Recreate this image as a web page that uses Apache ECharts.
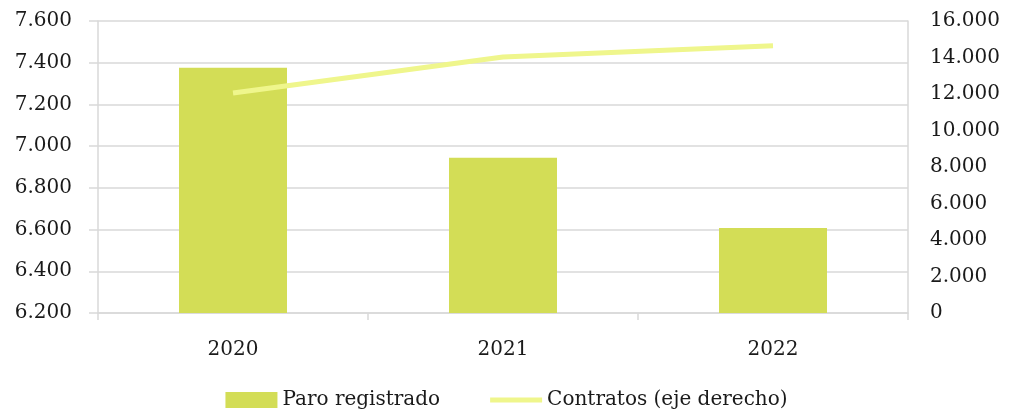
<!DOCTYPE html>
<html>
<head>
<meta charset="utf-8">
<script src="https://cdn.jsdelivr.net/npm/echarts@6/dist/echarts.min.js"></script>
<style>
  html, body { margin: 0; padding: 0; background: #fff; }
  #chart { width: 1013px; height: 414px; }
</style>
</head>
<body>
<div id="chart"></div>
<script>
const years = ['2020', '2021', '2022']
const paroRegistrado = [7376, 6944, 6607]
const contratos = [12060, 14030, 14640]

const font = 'DejaVu Serif'
const fmt = v => String(v).replace(/\B(?=(\d{3})+(?!\d))/g, '.')

const chart = echarts.init(document.getElementById('chart'))
chart.setOption({
  animation: false,
  textStyle: { fontFamily: font },
  grid: { left: 98, right: 105, top: 21, bottom: 101 },
  legend: {
    top: 385,
    left: 'center',
    itemWidth: 52,
    itemHeight: 16,
    itemGap: 50,
    textStyle: { fontFamily: font, fontSize: 20, color: '#1a1a1a' },
    data: [
      { name: 'Paro registrado', icon: 'rect' },
      { name: 'Contratos (eje derecho)', icon: 'path://M0,0 L10,0 L10,1 L0,1 Z' }
    ]
  },
  xAxis: {
    type: 'category',
    data: years,
    axisLine: { lineStyle: { color: '#d9d9d9', width: 1.5 } },
    axisTick: { show: true, length: 7, lineStyle: { color: '#d9d9d9', width: 1.5 } },
    axisLabel: { margin: 27, fontFamily: font, fontSize: 20, color: '#1a1a1a' }
  },
  yAxis: [
    {
      type: 'value',
      min: 6200, max: 7600, interval: 200,
      axisLine: { show: true, lineStyle: { color: '#d9d9d9', width: 1.5 } },
      axisTick: { show: true, length: 9, lineStyle: { color: '#d9d9d9', width: 1.5 } },
      splitLine: { lineStyle: { color: '#d9d9d9', width: 1.5 } },
      axisLabel: { margin: 26, fontFamily: font, fontSize: 20, color: '#1a1a1a', formatter: fmt }
    },
    {
      type: 'value',
      min: 0, max: 16000, interval: 2000,
      axisLine: { show: true, lineStyle: { color: '#d9d9d9', width: 1.5 } },
      axisTick: { show: false },
      splitLine: { show: false },
      axisLabel: { margin: 22, fontFamily: font, fontSize: 20, color: '#1a1a1a', formatter: fmt }
    }
  ],
  series: [
    {
      name: 'Paro registrado',
      type: 'bar',
      data: paroRegistrado,
      barWidth: '40%',
      itemStyle: { color: '#d3dd56' }
    },
    {
      name: 'Contratos (eje derecho)',
      type: 'line',
      yAxisIndex: 1,
      data: contratos,
      showSymbol: false,
      symbol: 'none',
      z: 5,
      lineStyle: { color: '#eff68c', width: 5 },
      itemStyle: { color: '#eff68c' }
    }
  ]
})
</script>
</body>
</html>
